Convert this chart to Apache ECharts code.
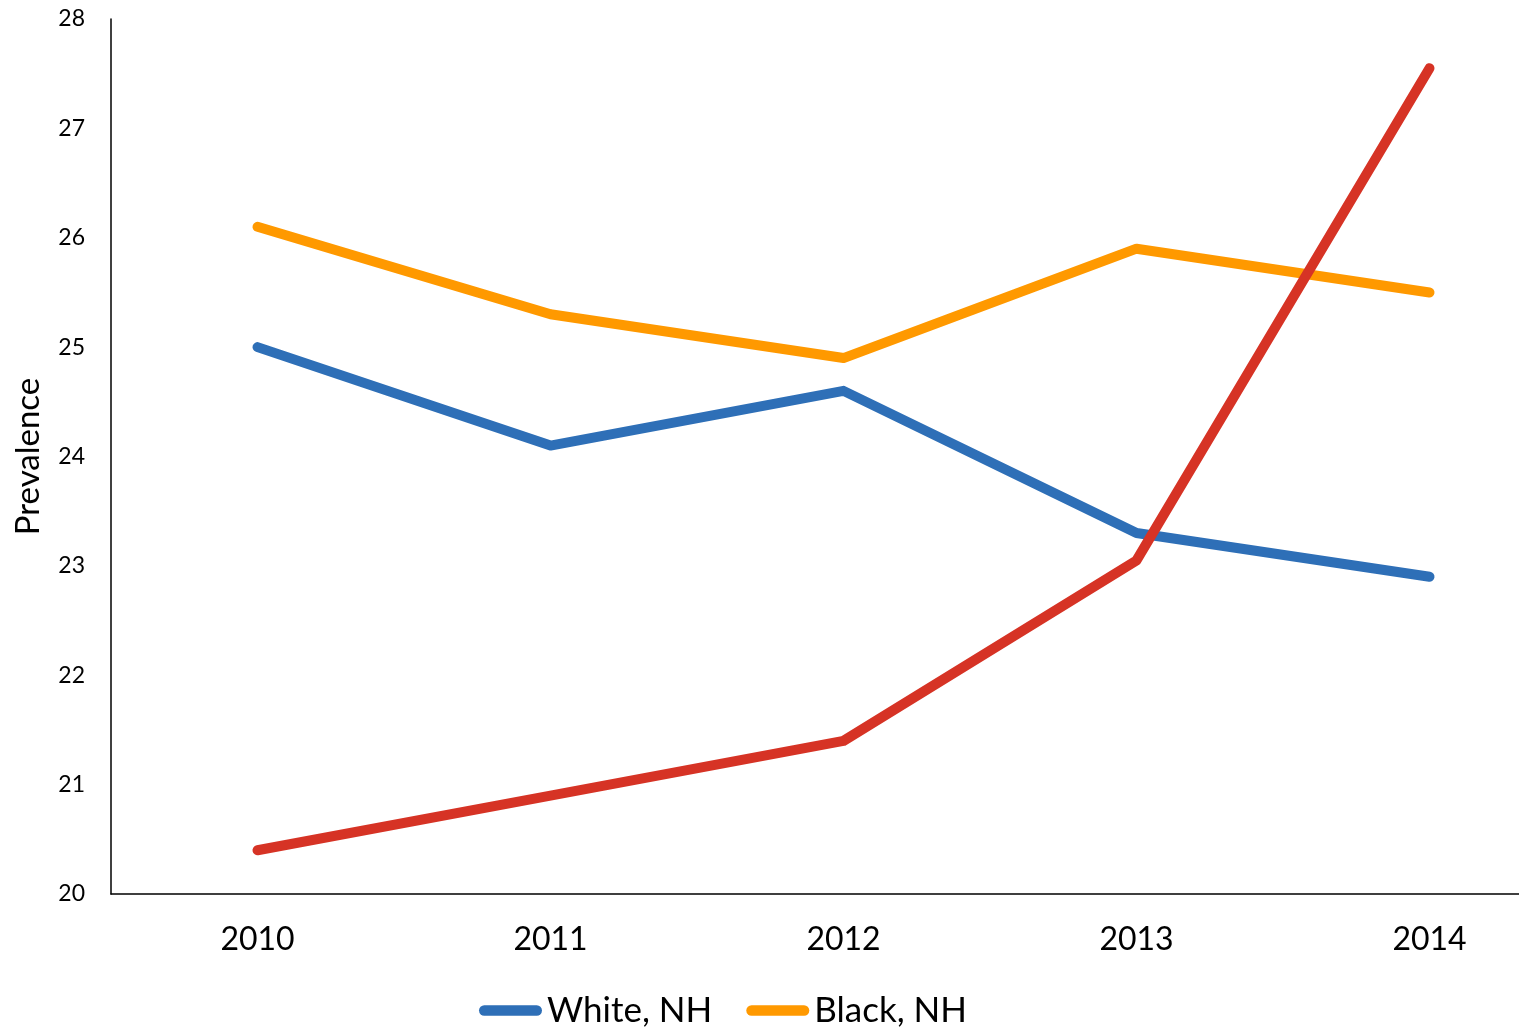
<!DOCTYPE html>
<html>
<head>
<meta charset="utf-8">
<script src="https://cdn.jsdelivr.net/npm/echarts@6/dist/echarts.min.js"></script>
<style>
  html, body { margin: 0; padding: 0; background: #fff; }
  #chart { width: 1519px; height: 1028px; }
</style>
</head>
<body>
<div id="chart"></div>
<script>
// data
var years = ["2010", "2011", "2012", "2013", "2014"];
var whiteNH = [25.0, 24.1, 24.6, 23.3, 22.9];
var blackNH = [26.1, 25.3, 24.9, 25.9, 25.5];
var hispanic = [20.4, 20.9, 21.4, 23.05, 27.55];
var yTicks = [20, 21, 22, 23, 24, 25, 26, 27, 28];

var font = "Lato, 'DejaVu Sans', sans-serif";
var pill = "path://M5,0 H55 A5,5 0 0 1 55,10 H5 A5,5 0 0 1 5,0 Z";

var myChart = echarts.init(document.getElementById("chart"));
myChart.setOption({
  animation: false,
  grid: {
    left: 111,
    top: 19,
    width: 1465,
    height: 875,
    containLabel: false,
    outerBoundsMode: "none"
  },
  legend: {
    left: 474,
    top: 988,
    itemWidth: 63,
    itemHeight: 12,
    itemGap: 34,
    data: [
      { name: "White, NH", icon: pill },
      { name: "Black, NH", icon: pill }
    ],
    textStyle: { fontFamily: font, fontSize: 35, color: "#000" }
  },
  xAxis: {
    type: "category",
    data: years,
    boundaryGap: true,
    axisLine: { lineStyle: { color: "#000", width: 1.5 } },
    axisTick: { show: false },
    axisLabel: { fontFamily: font, fontSize: 32, color: "#000", margin: 30 }
  },
  yAxis: {
    type: "value",
    min: yTicks[0],
    max: yTicks[yTicks.length - 1],
    interval: 1,
    name: "Prevalence",
    nameLocation: "middle",
    nameRotate: 90,
    nameGap: 66,
    nameTextStyle: { fontFamily: font, fontSize: 33, color: "#000" },
    splitLine: { show: false },
    axisLine: { show: true, lineStyle: { color: "#000", width: 1.5 } },
    axisTick: { show: false },
    axisLabel: { fontFamily: font, fontSize: 23, color: "#000", margin: 26 }
  },
  series: [
    {
      name: "White, NH",
      type: "line",
      data: whiteNH,
      symbol: "none",
      color: "#2E6FB7",
      lineStyle: { width: 10, cap: "round", join: "round" }
    },
    {
      name: "Black, NH",
      type: "line",
      data: blackNH,
      symbol: "none",
      color: "#FF9900",
      lineStyle: { width: 10, cap: "round", join: "round" }
    },
    {
      name: "Hispanic",
      type: "line",
      data: hispanic,
      symbol: "none",
      color: "#D63325",
      lineStyle: { width: 10, cap: "round", join: "round" }
    }
  ]
});
window.onresize = function () {
  myChart.resize();
};
</script>
</body>
</html>
